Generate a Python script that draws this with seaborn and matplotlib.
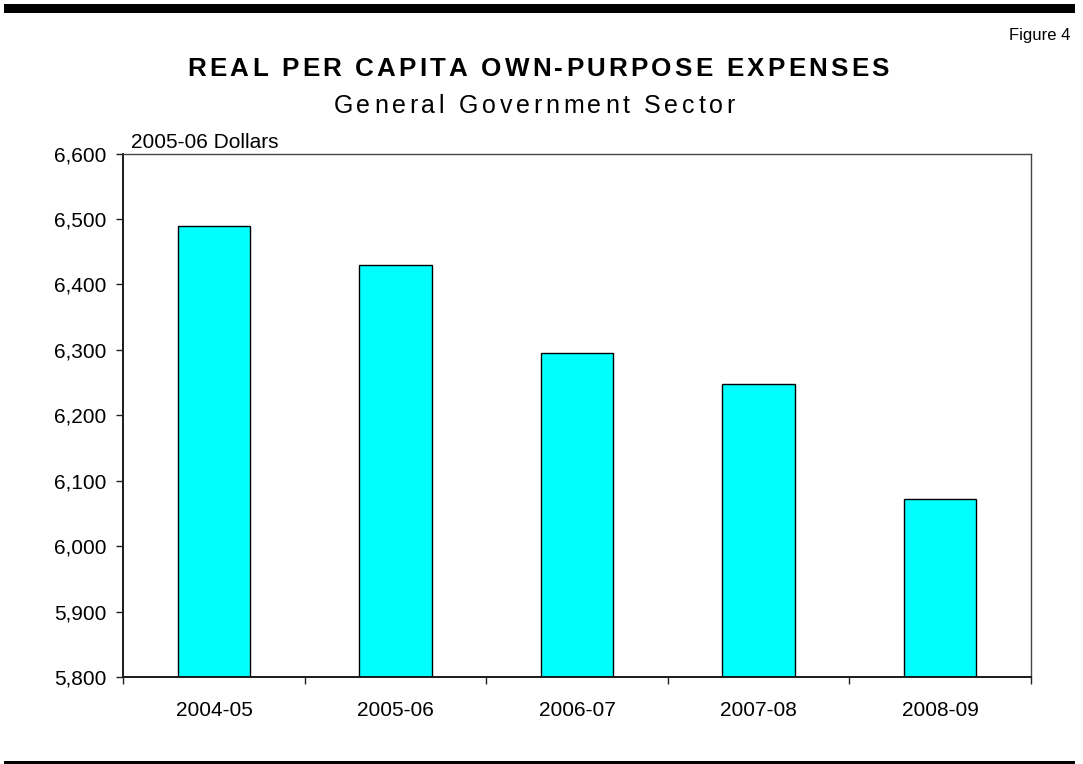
import matplotlib
matplotlib.use("Agg")
import matplotlib.pyplot as plt
import matplotlib.ticker as mticker
from matplotlib.patches import Rectangle
from matplotlib import font_manager
from matplotlib.ft2font import FT2Font
import seaborn as sns
import pandas as pd

# Data
years = ["2004-05", "2005-06", "2006-07", "2007-08", "2008-09"]
expenses = [6489, 6430, 6295, 6248, 6072]
y_ticks = [5800, 5900, 6000, 6100, 6200, 6300, 6400, 6500, 6600]

title = "REAL PER CAPITA OWN-PURPOSE EXPENSES"
subtitle = "General Government Sector"
unit_label = "2005-06 Dollars"
figure_label = "Figure 4"

W, H, DPI = 1083, 764, 100

sns.set_theme(style="white")
plt.rcParams["font.family"] = ["Liberation Sans", "DejaVu Sans"]

fig = plt.figure(figsize=(W / DPI, H / DPI), dpi=DPI)
fig.patch.set_facecolor("white")

# axes box in pixel coordinates
x0, x1, y_top, y_bot = 123.3, 1030.7, 153.6, 677.0
ax = fig.add_axes([x0 / W, 1 - y_bot / H, (x1 - x0) / W, (y_bot - y_top) / H])

df = pd.DataFrame({"year": years, "value": expenses})
sns.barplot(data=df, x="year", y="value", color="#00FFFF", saturation=1,
            edgecolor="black", linewidth=1.0, width=0.4, ax=ax)

ax.set_ylim(y_ticks[0], y_ticks[-1])
ax.set_xlim(-0.5, len(years) - 0.5)
ax.set_yticks(y_ticks)
ax.yaxis.set_major_formatter(mticker.FuncFormatter(lambda v, p: f"{int(v):,}"))
ax.set_xlabel("")
ax.set_ylabel("")
ax.grid(False)

# category separators on the x axis
ax.set_xticks([i - 0.5 for i in range(len(years) + 1)], minor=True)
ax.tick_params(axis="x", which="minor", length=5, width=1, color="#222222",
               direction="out", bottom=True)
ax.tick_params(axis="x", which="major", length=0, pad=17, labelsize=15,
               labelcolor="black")
ax.tick_params(axis="y", which="major", length=5, width=1, color="#222222",
               direction="out", left=True, pad=7, labelsize=15, labelcolor="black")

for side in ("left", "bottom"):
    ax.spines[side].set_color("#1a1a1a")
    ax.spines[side].set_linewidth(1.4)
for side in ("top", "right"):
    ax.spines[side].set_color("#444444")
    ax.spines[side].set_linewidth(1.0)
    ax.spines[side].set_visible(True)


def font_path(weight):
    return font_manager.findfont(
        font_manager.FontProperties(family="Liberation Sans", weight=weight))


def tracked_text(s, cx, baseline, size_pt, weight, tracking_px):
    """Draw a string centred at cx (pixels) with extra spacing between letters."""
    ft = FT2Font(font_path(weight))
    ft.set_size(size_pt, DPI)
    adv = []
    for ch in s:
        g = ft.load_char(ord(ch))
        adv.append(g.linearHoriAdvance / 65536.0)
    total = sum(adv) + tracking_px * (len(s) - 1)
    x = cx - total / 2
    for ch, a in zip(s, adv):
        fig.text(x / W, 1 - baseline / H, ch, fontsize=size_pt, fontweight=weight,
                 ha="left", va="baseline", color="black")
        x += a + tracking_px


tracked_text(title, 538, 76, 18.7, "bold", 3.2)
tracked_text(subtitle, 534, 113, 18.0, "normal", 3.7)

fig.text(131 / W, 1 - 148 / H, unit_label, fontsize=15, ha="left",
         va="baseline", color="black")
fig.text(1070 / W, 1 - 40 / H, figure_label, fontsize=12, ha="right",
         va="baseline", color="black")

# heavy rule at the top and thin rule at the bottom
fig.patches.append(Rectangle((4 / W, 1 - 13 / H), (1075 - 4) / W, 9 / H,
                             transform=fig.transFigure, facecolor="black",
                             edgecolor="none"))
fig.patches.append(Rectangle((4 / W, 0), (1075 - 4) / W, 3 / H,
                             transform=fig.transFigure, facecolor="black",
                             edgecolor="none"))

fig.savefig("out.png", dpi=DPI, facecolor="white")
